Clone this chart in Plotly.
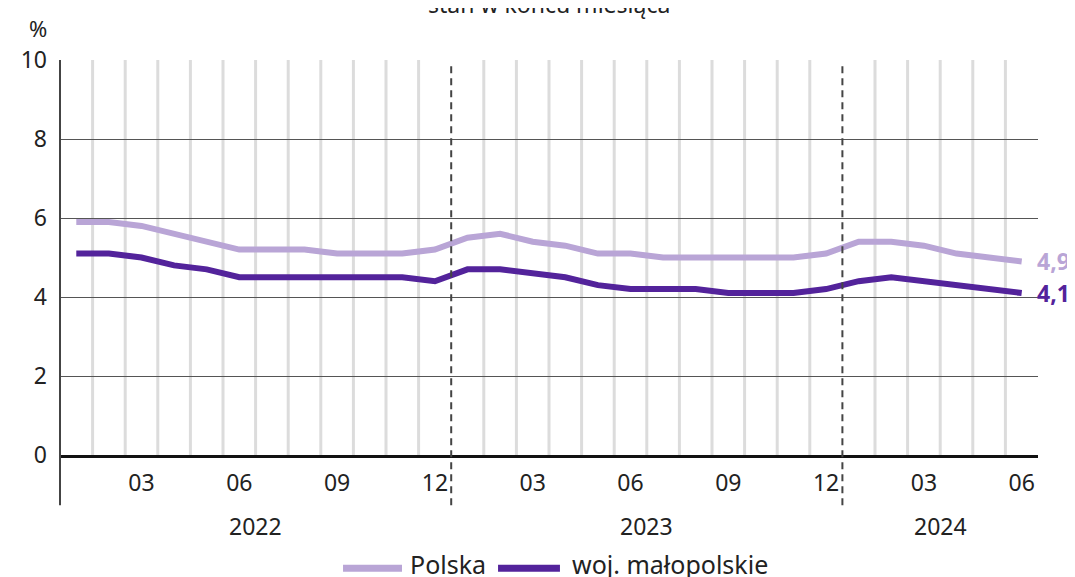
import plotly.graph_objects as go

months = ["2022-01","2022-02","2022-03","2022-04","2022-05","2022-06",
          "2022-07","2022-08","2022-09","2022-10","2022-11","2022-12",
          "2023-01","2023-02","2023-03","2023-04","2023-05","2023-06",
          "2023-07","2023-08","2023-09","2023-10","2023-11","2023-12",
          "2024-01","2024-02","2024-03","2024-04","2024-05","2024-06"]
polska = [5.9, 5.9, 5.8, 5.6, 5.4, 5.2, 5.2, 5.2, 5.1, 5.1, 5.1, 5.2,
          5.5, 5.6, 5.4, 5.3, 5.1, 5.1, 5.0, 5.0, 5.0, 5.0, 5.0, 5.1,
          5.4, 5.4, 5.3, 5.1, 5.0, 4.9]
malopolskie = [5.1, 5.1, 5.0, 4.8, 4.7, 4.5, 4.5, 4.5, 4.5, 4.5, 4.5, 4.4,
               4.7, 4.7, 4.6, 4.5, 4.3, 4.2, 4.2, 4.2, 4.1, 4.1, 4.1, 4.2,
               4.4, 4.5, 4.4, 4.3, 4.2, 4.1]
series_names = ["Polska", "woj. małopolskie"]
tick_months = ["03", "06", "09", "12"]
years = ["2022", "2023", "2024"]
y_ticks = [0, 2, 4, 6, 8, 10]

C_PL = "#b9a5d6"
C_MP = "#53239b"
FONT = "Noto Sans"
TXT = "#222222"

fig = go.Figure()
fig.add_trace(go.Scatter(x=months, y=polska, mode="lines", name=series_names[0],
                         line=dict(color=C_PL, width=6), showlegend=False))
fig.add_trace(go.Scatter(x=months, y=malopolskie, mode="lines", name=series_names[1],
                         line=dict(color=C_MP, width=6), showlegend=False))

tickvals = [m for m in months if m[5:] in tick_months]
ticktext = [m[5:] for m in tickvals]

shapes = []
for i in range(1, len(months)):
    if months[i][5:] == "01":
        shapes.append(dict(type="line", xref="x", yref="paper", x0=i - 0.5, x1=i - 0.5,
                           y0=-0.127, y1=0.993, layer="above",
                           line=dict(color="#444444", width=2, dash="7px,5px")))
    else:
        shapes.append(dict(type="line", xref="x", yref="y", x0=i - 0.5, x1=i - 0.5,
                           y0=0, y1=10, layer="below",
                           line=dict(color="#dcdcdc", width=3)))
shapes.append(dict(type="line", xref="paper", yref="paper", x0=0, x1=0, y0=-0.127, y1=1,
                   layer="above", line=dict(color="#444444", width=2)))

annotations = []
for yr in years:
    idx = [i for i, m in enumerate(months) if m.startswith(yr)]
    annotations.append(dict(x=sum(idx) / len(idx), y=-0.18, xref="x", yref="paper",
                            text=yr, showarrow=False, font=dict(size=23, color=TXT),
                            xanchor="center", yanchor="middle"))
annotations.append(dict(x=months[-1], y=polska[-1], xref="x", yref="y",
                        text=f"{polska[-1]:.1f}".replace(".", ","), showarrow=False,
                        xanchor="left", yanchor="middle", xshift=13,
                        font=dict(size=23, color=C_PL, family=FONT, weight="bold")))
annotations.append(dict(x=months[-1], y=malopolskie[-1], xref="x", yref="y",
                        text=f"{malopolskie[-1]:.1f}".replace(".", ","), showarrow=False,
                        xanchor="left", yanchor="middle", xshift=13,
                        font=dict(size=23, color=C_MP, family=FONT, weight="bold")))
annotations.append(dict(x=-0.023, y=1, xref="paper", yref="paper", text="%",
                        showarrow=False, xanchor="center", yanchor="middle", yshift=32,
                        font=dict(size=22, color=TXT)))
annotations.append(dict(x=0.5, y=1, xref="paper", yref="paper", text="stan w końcu miesiąca",
                        showarrow=False, xanchor="center", yanchor="middle", yshift=56,
                        font=dict(size=23, color=TXT)))

# legend (drawn manually to match the long rounded swatches)
leg_y = -0.287
leg_items = [(series_names[0], C_PL, 0.2894, 0.3497, 0.3558),
             (series_names[1], C_MP, 0.4479, 0.5112, 0.5215)]
for name, col, sx0, sx1, tx in leg_items:
    shapes.append(dict(type="line", xref="paper", yref="paper", x0=sx0, x1=sx1,
                       y0=leg_y, y1=leg_y, line=dict(color=col, width=7)))
    annotations.append(dict(x=tx, y=-0.276, xref="paper", yref="paper", text=name,
                            showarrow=False, xanchor="left", yanchor="middle",
                            font=dict(size=25, color=TXT)))

fig.update_layout(
    width=1067, height=569,
    margin=dict(l=52, r=37, t=52, b=122, autoexpand=False),
    paper_bgcolor="white", plot_bgcolor="white",
    font=dict(family=FONT, size=22, color=TXT),
    showlegend=False,
    shapes=shapes,
    annotations=annotations,
    xaxis=dict(type="category", categoryorder="array", categoryarray=months,
               range=[-0.5, len(months) - 0.5],
               tickvals=tickvals, ticktext=ticktext, ticks="", showgrid=False,
               showline=True, linecolor="#111", linewidth=3, ticklabelstandoff=5,
               tickfont=dict(size=23, color=TXT), zeroline=False),
    yaxis=dict(range=[0, 10], tickvals=y_ticks, ticks="", showgrid=True,
               gridcolor="#555555", gridwidth=1, zeroline=False, showline=False,
               ticklabelstandoff=12, tickfont=dict(size=23, color=TXT)),
)

fig.write_html("out.html")
